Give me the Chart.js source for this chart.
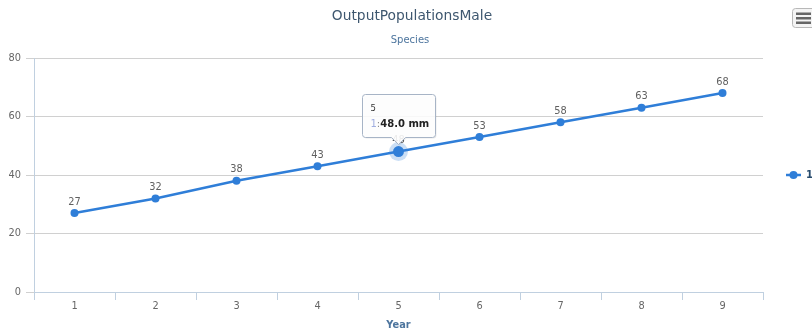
<!DOCTYPE html>
<html>
<head>
<meta charset="utf-8">
<script src="https://cdn.jsdelivr.net/npm/chart.js@4.4.1/dist/chart.umd.min.js"></script>
<style>
  html, body { margin: 0; padding: 0; background: #ffffff; }
  #wrap { position: relative; width: 812px; height: 330px; }
</style>
</head>
<body>
<div id="wrap"><canvas id="c" width="812" height="330"></canvas></div>
<script>
// Male output population per simulated year
const years = ['1', '2', '3', '4', '5', '6', '7', '8', '9'];
const seriesName = '1';
const maleValues = [27, 32, 38, 43, 48, 53, 58, 63, 68];
const yTicks = [0, 20, 40, 60, 80];
const hoverIndex = 4;        // point shown with its tooltip
const valueUnit = 'mm';

const chartTitle = 'OutputPopulationsMale';
const chartSubtitle = 'Species';
const xAxisTitle = 'Year';

const FONT = '"DejaVu Sans", Verdana, sans-serif';
const LINE_COLOR = '#2f7ed8';
const AXIS_COLOR = '#c0d0e0';
const GRID_COLOR = '#d0d0d0';

// Titles, legend and export button
const decorations = {
  id: 'decorations',
  afterDraw(chart) {
    const ctx = chart.ctx;
    const area = chart.chartArea;
    ctx.save();
    ctx.textAlign = 'center';
    ctx.textBaseline = 'middle';
    ctx.fillStyle = '#3e576f';
    ctx.font = '13.8px ' + FONT;
    ctx.fillText(chartTitle, 412, 16);
    ctx.fillStyle = '#4d759e';
    ctx.font = '10px ' + FONT;
    ctx.fillText(chartSubtitle, 410, 40);

    // legend item
    const ly = (area.top + area.bottom) / 2;
    ctx.strokeStyle = LINE_COLOR;
    ctx.lineWidth = 2.5;
    ctx.beginPath();
    ctx.moveTo(786, ly);
    ctx.lineTo(801, ly);
    ctx.stroke();
    ctx.fillStyle = LINE_COLOR;
    ctx.beginPath();
    ctx.arc(793.5, ly, 4, 0, Math.PI * 2);
    ctx.fill();
    ctx.fillStyle = '#274b6d';
    ctx.font = 'bold 10px ' + FONT;
    ctx.textAlign = 'left';
    ctx.fillText(chart.data.datasets[0].label, 806, ly + 0.5);

    // context menu button
    ctx.fillStyle = '#f4f4f4';
    ctx.strokeStyle = '#b8b8b8';
    ctx.lineWidth = 1;
    ctx.beginPath();
    ctx.roundRect(792.5, 8.5, 24, 19, 3);
    ctx.fill();
    ctx.stroke();
    ctx.fillStyle = '#666666';
    [12.5, 17, 21.5].forEach(y => ctx.fillRect(796, y, 15, 2.5));
    ctx.restore();
  }
};

// Value labels above each point
const valueLabels = {
  id: 'valueLabels',
  afterDatasetsDraw(chart) {
    const ctx = chart.ctx;
    const meta = chart.getDatasetMeta(0);
    const values = chart.data.datasets[0].data;
    ctx.save();
    ctx.font = '9.8px ' + FONT;
    ctx.fillStyle = '#606060';
    ctx.textAlign = 'center';
    ctx.textBaseline = 'middle';
    meta.data.forEach((pt, i) => {
      ctx.fillText(String(values[i]), pt.x, pt.y - 11);
    });
    ctx.restore();
  }
};

// Hover halo under the highlighted point
const hoverHalo = {
  id: 'hoverHalo',
  beforeDatasetsDraw(chart) {
    const pt = chart.getDatasetMeta(0).data[hoverIndex];
    const ctx = chart.ctx;
    ctx.save();
    ctx.fillStyle = 'rgba(47,126,216,0.25)';
    ctx.beginPath();
    ctx.arc(pt.x, pt.y, 9.5, 0, Math.PI * 2);
    ctx.fill();
    ctx.restore();
  }
};

// Tooltip for the highlighted point
const hoverTooltip = {
  id: 'hoverTooltip',
  afterDraw(chart) {
    const ctx = chart.ctx;
    const pt = chart.getDatasetMeta(0).data[hoverIndex];
    const value = chart.data.datasets[0].data[hoverIndex];
    const category = chart.data.labels[hoverIndex];
    const name = chart.data.datasets[0].label;
    const w = 73, h = 43, caret = 7;
    const x0 = Math.round(pt.x - w / 2) + 0.5;
    const yb = Math.round(pt.y - 15) + 0.5;
    const y0 = yb - h;
    const cx = pt.x;

    const shape = () => {
      ctx.beginPath();
      ctx.moveTo(x0 + 3, y0);
      ctx.lineTo(x0 + w - 3, y0);
      ctx.quadraticCurveTo(x0 + w, y0, x0 + w, y0 + 3);
      ctx.lineTo(x0 + w, yb - 3);
      ctx.quadraticCurveTo(x0 + w, yb, x0 + w - 3, yb);
      ctx.lineTo(cx + caret, yb);
      ctx.lineTo(cx, yb + caret);
      ctx.lineTo(cx - caret, yb);
      ctx.lineTo(x0 + 3, yb);
      ctx.quadraticCurveTo(x0, yb, x0, yb - 3);
      ctx.lineTo(x0, y0 + 3);
      ctx.quadraticCurveTo(x0, y0, x0 + 3, y0);
      ctx.closePath();
    };

    ctx.save();
    ctx.save();
    ctx.translate(1, 1);
    ctx.fillStyle = 'rgba(0,0,0,0.08)';
    shape();
    ctx.fill();
    ctx.restore();
    ctx.fillStyle = 'rgba(255,255,255,0.88)';
    ctx.strokeStyle = '#a7b4c6';
    ctx.lineWidth = 1;
    shape();
    ctx.fill();
    ctx.stroke();

    ctx.textBaseline = 'middle';
    ctx.textAlign = 'left';
    ctx.fillStyle = '#333333';
    ctx.font = '8.5px ' + FONT;
    ctx.fillText(category, x0 + 8, y0 + 14);
    ctx.font = '10px ' + FONT;
    ctx.fillStyle = '#a0aee0';
    ctx.fillText(name, x0 + 8, y0 + 29.5);
    let tx = x0 + 8 + ctx.measureText(name).width;
    ctx.fillStyle = '#888888';
    ctx.fillText(':', tx, y0 + 29.5);
    tx += ctx.measureText(':').width;
    ctx.fillStyle = '#222222';
    ctx.font = 'bold 10px ' + FONT;
    ctx.fillText(value.toFixed(1) + ' ' + valueUnit, tx, y0 + 29.5);
    ctx.restore();
  }
};

new Chart(document.getElementById('c'), {
  type: 'line',
  data: {
    labels: years,
    datasets: [{
      label: seriesName,
      data: maleValues,
      borderColor: LINE_COLOR,
      backgroundColor: LINE_COLOR,
      borderWidth: 2.5,
      pointRadius: ctx => ctx.dataIndex === hoverIndex ? 5.5 : 4,
      pointBorderWidth: 0,
      pointBackgroundColor: LINE_COLOR,
      tension: 0,
      fill: false
    }]
  },
  options: {
    responsive: false,
    animation: false,
    devicePixelRatio: 1,
    layout: { padding: { top: 58, right: 49, bottom: 0, left: 0 } },
    plugins: {
      legend: { display: false },
      title: { display: false },
      tooltip: { enabled: false }
    },
    events: [],
    scales: {
      x: {
        type: 'category',
        offset: true,
        afterFit(scale) { scale.height = 38; },
        grid: {
          offset: true,
          drawOnChartArea: false,
          drawTicks: true,
          tickLength: 8,
          tickColor: AXIS_COLOR
        },
        border: { display: true, color: AXIS_COLOR, width: 1 },
        ticks: {
          color: '#666666',
          padding: 1,
          font: { family: FONT, size: 9.8 },
          maxRotation: 0
        },
        title: {
          display: true,
          text: xAxisTitle,
          color: '#4d759e',
          font: { family: FONT, size: 9.8, weight: 'bold', lineHeight: 1 },
          padding: { top: 0, bottom: 0 }
        }
      },
      y: {
        min: yTicks[0],
        max: yTicks[yTicks.length - 1],
        afterFit(scale) { scale.width = 34; },
        afterBuildTicks(scale) { scale.ticks = yTicks.map(v => ({ value: v })); },
        grid: {
          color: GRID_COLOR,
          tickColor: GRID_COLOR,
          tickLength: 8,
          drawTicks: true
        },
        border: { display: true, color: AXIS_COLOR, width: 1 },
        ticks: {
          color: '#666666',
          padding: 5,
          font: { family: FONT, size: 9.8 }
        }
      }
    }
  },
  plugins: [hoverHalo, valueLabels, decorations, hoverTooltip]
});
</script>
</body>
</html>
